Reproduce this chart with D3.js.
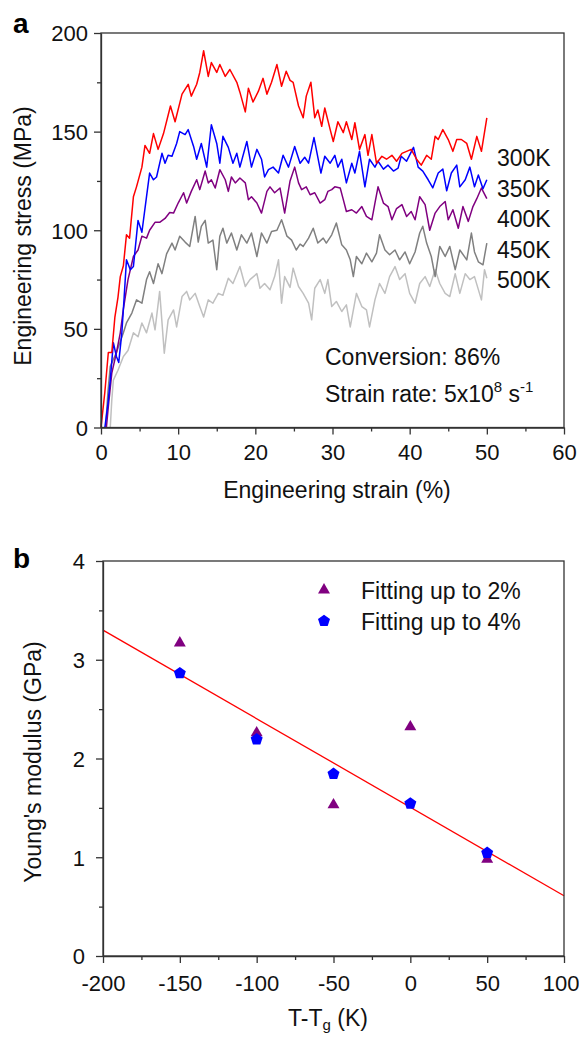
<!DOCTYPE html>
<html>
<head>
<meta charset="utf-8">
<script src="https://cdn.jsdelivr.net/npm/d3@7"></script>
<style>
  body { margin: 0; background: #fff; }
  svg { display: block; font-family: "Liberation Sans", Arial, sans-serif; }
</style>
</head>
<body>
<div id="chart"></div>
<script>
// panel a: stress-strain curves, [strain %, stress MPa]
const curve300K = [[0,0],[0.5,18],[0.95,38],[1.4,38],[1.8,56],[2.2,66],[2.5,76.5],[2.9,82],[3.3,97.7],[3.7,96],[4.2,117],[4.6,122],[5.3,132],[5.7,143],[6.3,139],[6.8,149],[7.4,141],[8.1,149],[9.0,163],[9.6,155],[10.5,169],[11.3,174],[11.7,168],[12.4,174],[12.8,180],[13.3,191],[13.9,178],[14.3,185],[15.0,180],[15.4,184],[16.1,178],[16.7,181.5],[17.6,175],[18.0,170],[18.7,160],[19.1,172],[19.7,165],[20.4,170.5],[21.0,177],[21.5,169],[22.1,175],[22.8,184],[23.4,173],[24.0,180.6],[24.5,176],[24.9,175],[25.6,163],[26.2,157],[26.6,168],[27.2,175],[27.7,157],[28.1,161],[28.6,152.7],[29.0,162],[29.7,151],[30.1,145],[30.7,155],[31.4,149.5],[31.8,155],[32.5,146],[32.9,154.5],[33.5,141],[34.2,148.5],[34.6,138],[35.1,148.5],[35.7,134],[36.4,137.5],[37.0,136],[37.7,138],[38.3,135],[39.0,139],[39.6,140],[40.2,141],[40.9,136],[41.5,133],[42.2,138],[42.8,136],[43.3,147.6],[43.7,146],[44.3,151],[45.0,146],[45.6,140],[46.1,146],[46.7,146],[47.4,144],[48.0,136],[48.7,147.6],[49.3,140],[50.0,157]];
const curve350K = [[0.5,0],[0.9,12],[1.2,24],[1.6,43],[2.0,36],[2.3,33],[2.7,48],[3.0,66],[3.3,85],[3.8,80],[4.2,81.6],[4.8,105],[5.3,99],[5.9,117],[6.3,129],[6.8,125.6],[7.2,127],[7.9,139],[8.3,134],[8.7,138],[9.2,137.5],[9.8,144],[10.2,150],[10.9,148.5],[11.3,151],[12.0,142.5],[12.4,136],[13.0,144],[13.7,132],[14.3,153.5],[15.0,144],[15.4,134],[15.8,147.6],[16.5,142],[17.1,134],[17.6,139],[18.0,132],[18.9,145],[19.5,132],[20.2,141],[20.8,136],[21.2,127],[21.7,130.7],[22.3,132],[23.0,129],[23.6,138],[24.3,132],[25.1,142.5],[25.8,134],[26.4,137],[26.9,134],[27.6,147],[27.9,141],[28.5,129],[29.0,137.5],[29.7,134],[30.3,138],[30.7,132],[31.2,136],[31.8,124],[32.5,134],[32.9,129],[33.5,140],[34.2,122],[34.8,136],[35.5,132],[35.9,135],[36.6,131],[37.2,133],[37.9,130],[38.5,131.5],[38.9,137.5],[39.6,135],[40.5,142],[41.1,132],[41.7,130],[42.4,125.6],[43.0,121.5],[43.7,129],[44.3,131],[44.8,120],[45.4,129],[46.1,133],[46.5,122],[47.2,125.6],[47.8,132],[48.4,122],[48.9,128],[49.5,121],[50.0,125.6]];
const curve400K = [[0.7,0],[0.95,10.5],[1.4,27.6],[2.0,38],[2.5,48],[2.9,60],[3.5,75],[4.2,86.7],[4.8,90],[5.3,97],[5.9,96],[6.3,100],[7.0,104],[7.6,104],[8.3,106],[8.9,109],[9.4,108.7],[10.0,113.8],[10.7,119],[11.1,113.8],[11.7,119.7],[12.4,125.6],[12.8,120.6],[13.5,130],[13.9,124],[14.3,125.6],[14.8,121.4],[15.4,130.7],[16.1,125.6],[16.5,119.7],[16.9,127],[17.4,124],[18.0,126.5],[18.7,124],[19.1,115.5],[19.5,117],[20.2,113.8],[20.8,108.7],[21.5,119.7],[21.9,122],[22.5,119],[23.2,121.4],[23.8,108.7],[24.5,125],[25.1,132],[25.6,124],[26.0,120.6],[26.6,122],[27.1,118],[27.7,119],[28.4,113.8],[29.0,115.5],[29.4,119.7],[29.9,120.6],[30.3,122],[31.0,121.4],[31.4,115.5],[31.8,109.5],[32.5,110.4],[33.1,108.7],[33.8,112],[34.4,107],[35.1,105.3],[35.5,113.8],[35.9,122],[36.6,113.8],[37.2,112],[37.7,105.3],[38.3,111],[39.0,113],[39.6,107],[40.2,109.5],[40.7,105.3],[41.3,117],[42.0,113],[42.6,100],[43.3,108.7],[43.9,112],[44.6,114.6],[45.0,105.3],[45.6,110.4],[46.3,101],[46.9,112],[47.6,104.5],[48.2,112],[48.7,116],[49.3,121.4],[50.0,116]];
const curve450K = [[0.6,0],[0.9,18],[1.2,31],[2.0,38],[2.9,48],[3.3,53],[4.0,58],[4.6,64.7],[5.3,63],[5.9,75],[6.3,79],[6.8,73],[7.4,83],[7.9,78],[8.5,88],[9.2,93.5],[9.6,90],[10.2,97],[10.9,94],[11.5,91.8],[12.2,107],[12.6,94],[13.0,102],[13.5,105],[13.9,93.5],[14.5,95],[15.0,80],[15.4,97],[15.8,101],[16.3,93.5],[16.9,98.6],[17.6,90],[18.2,97.7],[18.9,93.5],[19.5,98.6],[20.2,86.7],[20.8,98.6],[21.5,93.5],[22.1,99.4],[22.8,100],[23.4,105.3],[24.1,97],[24.7,95],[25.3,90],[25.8,93],[26.2,91.8],[26.9,96],[27.5,101],[28.1,93.5],[28.8,96],[29.2,93.5],[29.9,97.7],[30.5,103.7],[31.2,92.6],[31.8,90],[32.3,85],[32.7,76.5],[33.1,86.7],[33.8,83],[34.4,88.4],[35.1,84],[35.7,88.4],[36.1,97.7],[36.8,90],[37.4,87.6],[38.1,90],[38.7,85],[39.4,89],[40.0,83],[40.7,89],[41.3,98.6],[41.7,102],[42.2,93.5],[42.8,86.7],[43.3,76.5],[43.9,91.8],[44.6,86.7],[45.2,91.8],[45.9,80],[46.5,90],[47.4,85],[48.0,98.6],[48.4,89],[48.9,84],[49.5,82.5],[50.0,93.5]];
const curve500K = [[1.2,0],[1.4,14],[1.6,24],[2.2,29],[2.9,36],[3.5,39],[4.2,48],[4.8,46],[5.3,53],[5.9,48],[6.6,58],[7.0,49.5],[7.6,69],[8.2,37.7],[8.7,54.6],[9.4,59.6],[9.8,51],[10.5,66.4],[11.1,69],[11.5,64.7],[12.2,68],[12.8,61.3],[13.3,56],[13.9,64.7],[14.5,63],[15.2,68],[15.8,67],[16.5,75.7],[17.1,73],[18.0,81.6],[18.7,71.5],[19.3,75],[20.2,78],[20.6,70.6],[21.2,73],[21.9,69.8],[22.5,76.5],[23.0,85],[23.4,63],[23.8,76.5],[24.5,71],[24.9,80.8],[25.6,71.5],[26.2,68],[26.9,63],[27.3,54.6],[27.7,70.6],[28.4,75],[29.0,68],[29.4,75],[29.9,61.3],[30.5,63.9],[31.2,58.8],[31.8,62.2],[32.3,51],[33.1,68],[33.8,61.3],[34.4,59.6],[34.8,51],[35.5,64.7],[36.1,73],[36.8,68],[37.4,76.5],[38.1,81.6],[38.7,75],[39.4,78],[40.0,68],[40.7,63],[41.3,73],[42.0,76.5],[42.6,71.5],[43.3,80],[43.9,73],[44.6,68],[45.2,66.4],[45.9,78],[46.5,68],[47.2,78],[47.8,75],[48.4,76.5],[49.3,64.7],[49.7,80],[50.0,75.7]];
const curveLabels = ['300K', '350K', '400K', '450K', '500K'];

// panel b: Young's modulus vs T-Tg
const tempDiff = [-150, -100, -50, 0, 50];
const modulus2 = [3.17, 2.26, 1.53, 2.32, 0.98];
const modulus4 = [2.87, 2.20, 1.85, 1.55, 1.05];
const fitLine = [[-200, 3.30], [100, 0.61]];

const svg = d3.select('#chart').append('svg')
    .attr('width', 579)
    .attr('height', 1037);

const frameColor = '#333';

function drawFrame(x, y, xMajor, xMinor, yMajor, yMinor, yLabelRight, xLabelBase) {
    const [x0, x1] = x.range();
    const [y0, y1] = y.range();
    const g = svg.append('g');
    const fmt = d => String(d);

    g.append('g')
        .attr('transform', `translate(0,${y0})`)
        .call(d3.axisBottom(x).tickValues(xMinor).tickSize(4).tickFormat(''))
        .call(a => a.select('.domain').remove());
    const xa = g.append('g')
        .attr('transform', `translate(0,${y0})`)
        .call(d3.axisBottom(x).tickValues(xMajor).tickSize(7).tickSizeOuter(0).tickFormat(fmt));
    xa.selectAll('text').attr('y', xLabelBase - y0).attr('dy', 0);

    g.append('g')
        .attr('transform', `translate(${x0},0)`)
        .call(d3.axisLeft(y).tickValues(yMinor).tickSize(4).tickFormat(''))
        .call(a => a.select('.domain').remove());
    const ya = g.append('g')
        .attr('transform', `translate(${x0},0)`)
        .call(d3.axisLeft(y).tickValues(yMajor).tickSize(7).tickSizeOuter(0).tickFormat(fmt));
    ya.selectAll('text').attr('x', yLabelRight - x0).attr('dy', '0.36em');

    g.selectAll('.tick line').attr('stroke', frameColor).attr('stroke-width', 1.3);
    g.selectAll('.domain').attr('stroke', frameColor).attr('stroke-width', 1.3);
    g.selectAll('.tick text').attr('fill', '#111').style('font-size', '22px');

    g.append('rect')
        .attr('x', x0).attr('y', y1)
        .attr('width', x1 - x0).attr('height', y0 - y1)
        .attr('fill', 'none')
        .attr('stroke', frameColor)
        .attr('stroke-width', 1.3);
    return xa;
}

// ---------- panel a ----------
const xa = d3.scaleLinear().domain([0, 60]).range([101, 564]);
const ya = d3.scaleLinear().domain([0, 200]).range([427.5, 33]);

const line = d3.line().x(d => xa(d[0])).y(d => ya(d[1]));
const curves = [curve500K, curve450K, curve400K, curve350K, curve300K];
const curveColors = ['#c0c0c0', '#808080', '#800080', '#0000ff', '#ff0000'];
curves.forEach((c, i) => {
    svg.append('path')
        .datum(c)
        .attr('fill', 'none')
        .attr('stroke', curveColors[i])
        .attr('stroke-width', 1.5)
        .attr('stroke-linejoin', 'round')
        .attr('d', line);
});

drawFrame(xa, ya,
    d3.range(0, 61, 10), d3.range(5, 60, 10),
    d3.range(0, 201, 50), d3.range(25, 200, 50),
    88, 460);

curveLabels.forEach((t, i) => {
    svg.append('text')
        .attr('x', 497)
        .attr('y', 166 + i * 30.5)
        .style('font-size', '23px')
        .attr('fill', '#111')
        .text(t);
});

svg.append('text')
    .attr('x', 325).attr('y', 365)
    .style('font-size', '23px').attr('fill', '#111')
    .text('Conversion: 86%');

const sr = svg.append('text')
    .attr('x', 325).attr('y', 402)
    .style('font-size', '23px').attr('fill', '#111');
sr.append('tspan').text('Strain rate: 5x10');
sr.append('tspan').attr('dy', -10).style('font-size', '15px').text('8');
sr.append('tspan').attr('dy', 10).text(' s');
sr.append('tspan').attr('dy', -10).style('font-size', '15px').text('-1');

svg.append('text')
    .attr('x', 337).attr('y', 498)
    .attr('text-anchor', 'middle')
    .style('font-size', '23px').attr('fill', '#111')
    .text('Engineering strain (%)');

svg.append('text')
    .attr('transform', 'translate(31,236) rotate(-90)')
    .attr('text-anchor', 'middle')
    .style('font-size', '23px').attr('fill', '#111')
    .text('Engineering stress (MPa)');

svg.append('text')
    .attr('x', 13).attr('y', 33)
    .style('font-size', '28px').style('font-weight', 'bold')
    .text('a');

// ---------- panel b ----------
const xb = d3.scaleLinear().domain([-200, 100]).range([103, 564]);
const yb = d3.scaleLinear().domain([0, 4]).range([956, 561]);

svg.append('path')
    .datum(fitLine)
    .attr('fill', 'none')
    .attr('stroke', '#ff0000')
    .attr('stroke-width', 1.3)
    .attr('d', d3.line().x(d => xb(d[0])).y(d => yb(d[1])));

const tri = d3.symbol().type(d3.symbolTriangle).size(62)();
function pentagon(r) {
    const pts = d3.range(5).map(k => {
        const a = -Math.PI / 2 + k * 2 * Math.PI / 5;
        return [r * Math.cos(a), r * Math.sin(a)];
    });
    return 'M' + pts.map(p => p.join(',')).join('L') + 'Z';
}
const pent = pentagon(6.3);

svg.append('g').selectAll('path')
    .data(tempDiff.map((t, i) => [t, modulus2[i]]))
    .join('path')
    .attr('transform', d => `translate(${xb(d[0])},${yb(d[1])})`)
    .attr('d', tri)
    .attr('fill', '#800080');

svg.append('g').selectAll('path')
    .data(tempDiff.map((t, i) => [t, modulus4[i]]))
    .join('path')
    .attr('transform', d => `translate(${xb(d[0])},${yb(d[1]) + 0.6})`)
    .attr('d', pent)
    .attr('fill', '#0000ff');

const xbAxis = drawFrame(xb, yb,
    d3.range(-200, 101, 50), d3.range(-175, 100, 50),
    d3.range(0, 5, 1), d3.range(0.5, 4, 1),
    85, 991);
// last label sits at the window edge, as in the reference
xbAxis.selectAll('text').filter(d => d === 100).attr('text-anchor', 'end').attr('x', 15);

// legend
svg.append('path').attr('transform', 'translate(324,590)').attr('d', tri).attr('fill', '#800080');
svg.append('path').attr('transform', 'translate(324,621)').attr('d', pent).attr('fill', '#0000ff');
svg.append('text').attr('x', 361).attr('y', 599)
    .style('font-size', '23px').attr('fill', '#111').text('Fitting up to 2%');
svg.append('text').attr('x', 361).attr('y', 630)
    .style('font-size', '23px').attr('fill', '#111').text('Fitting up to 4%');

const xt = svg.append('text')
    .attr('x', 328).attr('y', 1026)
    .attr('text-anchor', 'middle')
    .style('font-size', '23px').attr('fill', '#111');
xt.append('tspan').text('T-T');
xt.append('tspan').attr('dy', 4).style('font-size', '15px').text('g');
xt.append('tspan').attr('dy', -4).text(' (K)');

svg.append('text')
    .attr('transform', 'translate(41,762) rotate(-90)')
    .attr('text-anchor', 'middle')
    .style('font-size', '23px').attr('fill', '#111')
    .text("Young's modulus (GPa)");

svg.append('text')
    .attr('x', 13).attr('y', 568)
    .style('font-size', '28px').style('font-weight', 'bold')
    .text('b');
</script>
</body>
</html>
